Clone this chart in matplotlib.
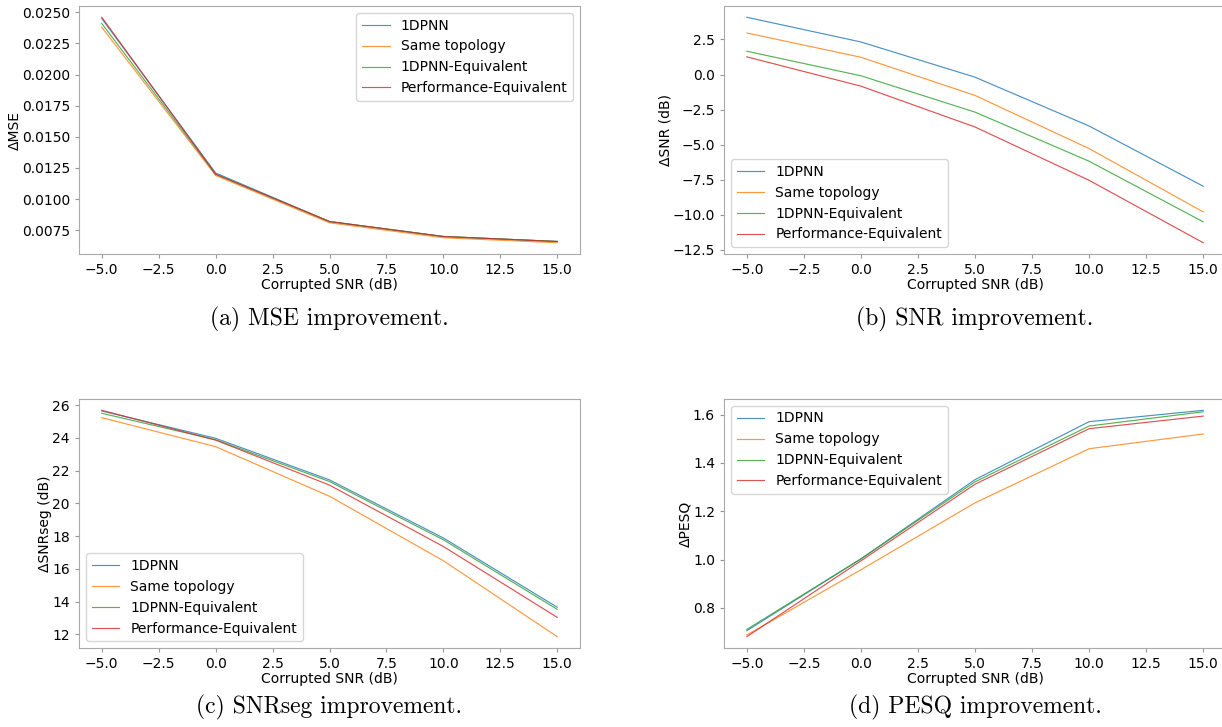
import matplotlib.pyplot as plt
import numpy as np

# corrupted input SNR levels (dB)
snr_in = [-5.0, 0.0, 5.0, 10.0, 15.0]
labels = ['1DPNN', 'Same topology', '1DPNN-Equivalent', 'Performance-Equivalent']

# MSE improvement
mse_1dpnn = [0.0245, 0.0121, 0.0082, 0.0070, 0.0066]
mse_same = [0.0238, 0.0119, 0.0081, 0.0069, 0.0065]
mse_equiv = [0.0241, 0.0120, 0.0082, 0.0070, 0.0066]
mse_perf = [0.0246, 0.0120, 0.0082, 0.0070, 0.0066]

# SNR improvement
snr_1dpnn = [4.08, 2.32, -0.19, -3.67, -7.96]
snr_same = [2.96, 1.23, -1.49, -5.28, -9.79]
snr_equiv = [1.66, -0.09, -2.68, -6.18, -10.50]
snr_perf = [1.26, -0.83, -3.74, -7.54, -11.99]

# SNRseg improvement
seg_1dpnn = [25.65, 23.98, 21.44, 17.89, 13.66]
seg_same = [25.24, 23.47, 20.44, 16.50, 11.86]
seg_equiv = [25.51, 23.89, 21.34, 17.78, 13.53]
seg_perf = [25.69, 23.87, 21.12, 17.37, 13.04]

# PESQ improvement
pesq_1dpnn = [0.706, 1.003, 1.331, 1.571, 1.618]
pesq_same = [0.688, 0.958, 1.235, 1.459, 1.520]
pesq_equiv = [0.711, 1.003, 1.322, 1.553, 1.612]
pesq_perf = [0.681, 0.995, 1.312, 1.542, 1.594]

W, H = 1222, 727
fig = plt.figure(figsize=(W / 100, H / 100), dpi=100)

def box(l, t, r, b):
    return [l / W, 1 - b / H, (r - l) / W, (b - t) / H]

panels = [
    (box(79, 6, 580, 254), [mse_1dpnn, mse_same, mse_equiv, mse_perf], '\u0394MSE', 'upper right', '(a) MSE improvement.'),
    (box(724, 6, 1226, 254), [snr_1dpnn, snr_same, snr_equiv, snr_perf], '\u0394SNR (dB)', 'lower left', '(b) SNR improvement.'),
    (box(79, 399, 580, 648), [seg_1dpnn, seg_same, seg_equiv, seg_perf], '\u0394SNRseg (dB)', 'lower left', '(c) SNRseg improvement.'),
    (box(724, 399, 1226, 648), [pesq_1dpnn, pesq_same, pesq_equiv, pesq_perf], '\u0394PESQ', 'upper left', '(d) PESQ improvement.'),
]

cap_y = [319, 319, 707, 707]

for i, (rect, series, ylab, loc, cap) in enumerate(panels):
    ax = fig.add_axes(rect)
    for vals, lab in zip(series, labels):
        ax.plot(snr_in, vals, lw=0.85, alpha=0.8, label=lab)
    ax.set_xticks(np.arange(-5, 15.1, 2.5))
    ax.tick_params(labelsize=10, color='#999999', length=3)
    for s in ax.spines.values():
        s.set_color('#aaaaaa')
    ax.set_xlabel('Corrupted SNR (dB)', fontsize=10, labelpad=1)
    ax.set_ylabel(ylab, fontsize=10, labelpad=0)
    ax.legend(loc=loc, fontsize=10)
    cx = rect[0] + rect[2] / 2
    fig.text(cx, 1 - cap_y[i] / H, cap, ha='center', va='center',
             fontsize=17, family='cmr10')

fig.savefig('out.png', dpi=100)
